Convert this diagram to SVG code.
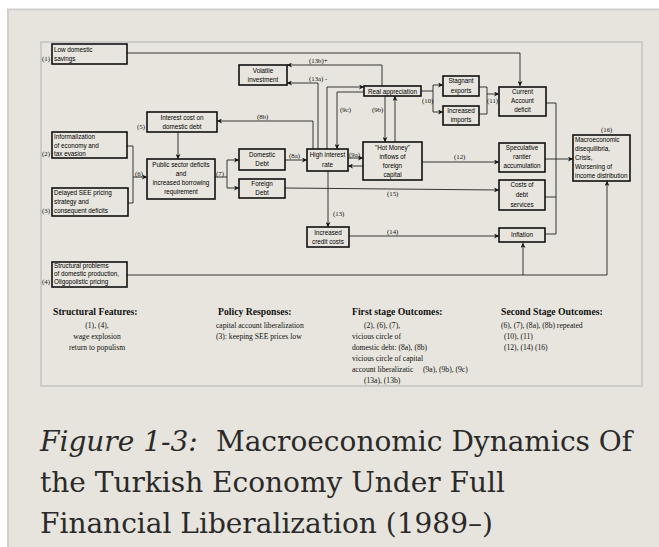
<svg xmlns="http://www.w3.org/2000/svg" width="659" height="547" viewBox="0 0 659 547">
<defs>
<marker id="ah" viewBox="0 0 10 10" refX="10" refY="5" markerWidth="5" markerHeight="5" orient="auto" markerUnits="userSpaceOnUse">
<path d="M0,0 L10,5 L0,10 L3,5 z" fill="#111"/>
</marker>
<style>
.bx{fill:none;stroke:#111;stroke-width:1.6}
.t{font-family:"Liberation Sans",Arial,sans-serif;font-size:6.3px;fill:#000}
.c{text-anchor:middle}
.lb{font-family:"Liberation Serif","Times New Roman",serif;font-size:6.8px;fill:#111}
.ln{fill:none;stroke:#222;stroke-width:0.9}
.ar{marker-end:url(#ah)}
.h{font-family:"Liberation Serif","Times New Roman",serif;font-size:9.7px;font-weight:bold;fill:#111}
.b{font-family:"Liberation Serif","Times New Roman",serif;font-size:7.6px;fill:#111}
.cap{font-family:"DejaVu Serif",serif;font-size:28px;fill:#2a2a2a}
</style>
</defs>
<rect x="0" y="0" width="659" height="547" fill="#ffffff"/>
<rect x="8" y="9" width="651" height="538" fill="#e6e4dc"/>
<path d="M8,547 L8,9.5 L659,9.5" fill="none" stroke="#cfcfcb" stroke-width="2"/>
<rect x="41" y="42" width="601" height="344" fill="#e7e5dd" stroke="#cbcbc7" stroke-width="2"/>

<g id="connectors">
<polyline class="ln ar" points="127,53 520,53 520,86"/>
<polyline class="ln" points="127,146 133,146 133,203 128,203"/>
<polyline class="ln ar" points="133,177 147,177"/>
<polyline class="ln ar" points="178,132 178,159"/>
<polyline class="ln" points="215,177 227,177"/>
<polyline class="ln" points="227,160 227,188"/>
<polyline class="ln ar" points="227,160 239,160"/>
<polyline class="ln ar" points="227,188 239,188"/>
<polyline class="ln ar" points="285,160 307,160"/>
<polyline class="ln ar" points="313,149 313,121 217,121"/>
<polyline class="ln ar" points="318,149 318,83 287,83"/>
<polyline class="ln ar" points="327,149 327,87 364,87"/>
<polyline class="ln ar" points="364,92 337,92 337,149"/>
<polyline class="ln ar" points="382,86 382,65 287,65"/>
<polyline class="ln ar" points="385,96 385,142"/>
<polyline class="ln ar" points="395,142 395,96"/>
<polyline class="ln ar" points="348,158 363,158"/>
<polyline class="ln ar" points="363,166 348,166"/>
<polyline class="ln" points="421,91 433,91"/>
<polyline class="ln" points="433,85 433,112"/>
<polyline class="ln ar" points="433,85 443,85"/>
<polyline class="ln ar" points="433,112 443,112"/>
<polyline class="ln" points="479,87 487,87 487,114 479,114"/>
<polyline class="ln ar" points="487,94 499,94"/>
<polyline class="ln" points="546,103 556,103 556,234 545,234"/>
<polyline class="ln" points="545,197 556,197"/>
<polyline class="ln ar" points="545,159 573,159"/>
<polyline class="ln ar" points="422,162 499,162"/>
<polyline class="ln ar" points="285,188 499,190"/>
<polyline class="ln ar" points="328,171 328,227"/>
<polyline class="ln ar" points="349,236 499,236"/>
<polyline class="ln ar" points="127,275 607,275 607,181"/>
<polyline class="ln ar" points="523,275 523,243"/>
<text class="lb" x="135" y="176">(6)</text>
<text class="lb" x="216" y="176">(7)</text>
<text class="lb" x="289" y="158">(8a)</text>
<text class="lb" x="257" y="119">(8b)</text>
<text class="lb" x="309" y="63">(13b)+</text>
<text class="lb" x="309" y="81">(13a) -</text>
<text class="lb" x="340" y="112">(9c)</text>
<text class="lb" x="372" y="112">(9b)</text>
<text class="lb" x="349" y="157">(9a)</text>
<text class="lb" x="422" y="103">(10)</text>
<text class="lb" x="487" y="103">(11)</text>
<text class="lb" x="454" y="159">(12)</text>
<text class="lb" x="387" y="196">(15)</text>
<text class="lb" x="333" y="216">(13)</text>
<text class="lb" x="387" y="234">(14)</text>
<text class="lb" x="601" y="132">(16)</text>
</g>

<g id="n1"><rect class="bx" x="52" y="44" width="75" height="20"/>
<text class="t" x="54" y="52">Low domestic</text><text class="t" x="54" y="61">savings</text>
<text class="lb" x="42" y="61">(1)</text></g>
<g id="n2"><rect class="bx" x="52" y="132" width="75" height="26"/>
<text class="t" x="54" y="139">Informalization</text><text class="t" x="54" y="148">of economy and</text><text class="t" x="54" y="156">tax evasion</text>
<text class="lb" x="42" y="156">(2)</text></g>
<g id="n3"><rect class="bx" x="52" y="188" width="76" height="28"/>
<text class="t" x="54" y="195">Delayed SEE pricing</text><text class="t" x="54" y="204">strategy and</text><text class="t" x="54" y="213">consequent deficits</text>
<text class="lb" x="42" y="213">(3)</text></g>
<g id="n4"><rect class="bx" x="52" y="262" width="75" height="25"/>
<text class="t" x="54" y="268">Structural problems</text><text class="t" x="54" y="276">of domestic production,</text><text class="t" x="54" y="284">Oligopolistic pricing</text>
<text class="lb" x="42" y="284">(4)</text></g>
<g id="n5"><rect class="bx" x="147" y="112" width="70" height="20"/>
<text class="t c" x="182" y="120">Interest cost on</text><text class="t c" x="182" y="129">domestic debt</text>
<text class="lb" x="137" y="129">(5)</text></g>
<g id="n6"><rect class="bx" x="147" y="159" width="68" height="40"/>
<text class="t c" x="181" y="167">Public sector deficits</text><text class="t c" x="181" y="176">and</text><text class="t c" x="181" y="185">increased borrowing</text><text class="t c" x="181" y="194">requirement</text></g>
<g id="n7"><rect class="bx" x="239" y="65" width="48" height="20"/>
<text class="t c" x="263" y="73">Volatile</text><text class="t c" x="263" y="82">investment</text></g>
<g id="n8"><rect class="bx" x="239" y="149" width="46" height="21"/>
<text class="t c" x="262" y="157">Domestic</text><text class="t c" x="262" y="166">Debt</text></g>
<g id="n9"><rect class="bx" x="239" y="179" width="46" height="19"/>
<text class="t c" x="262" y="186">Foreign</text><text class="t c" x="262" y="195">Debt</text></g>
<g id="n10"><rect class="bx" x="307" y="149" width="41" height="22"/>
<text class="t c" x="327.5" y="157">High interest</text><text class="t c" x="327.5" y="167">rate</text></g>
<g id="n11"><rect class="bx" x="364" y="86" width="57" height="10"/>
<text class="t c" x="392.5" y="93.5">Real appreciation</text></g>
<g id="n12"><rect class="bx" x="363" y="142" width="59" height="38"/>
<text class="t c" x="392.5" y="150">"Hot Money"</text><text class="t c" x="392.5" y="159">inflows of</text><text class="t c" x="392.5" y="168">foreign</text><text class="t c" x="392.5" y="177">capital</text></g>
<g id="n13"><rect class="bx" x="443" y="76" width="36" height="20"/>
<text class="t c" x="461" y="83">Stagnant</text><text class="t c" x="461" y="93">exports</text></g>
<g id="n14"><rect class="bx" x="443" y="106" width="36" height="19"/>
<text class="t c" x="461" y="113">Increased</text><text class="t c" x="461" y="122">imports</text></g>
<g id="n15"><rect class="bx" x="499" y="87" width="47" height="29"/>
<text class="t c" x="522.5" y="94">Current</text><text class="t c" x="522.5" y="103">Account</text><text class="t c" x="522.5" y="112">deficit</text></g>
<g id="n16"><rect class="bx" x="499" y="143" width="46" height="29"/>
<text class="t c" x="522" y="150">Speculative</text><text class="t c" x="522" y="159">rantier</text><text class="t c" x="522" y="168">accumulation</text></g>
<g id="n17"><rect class="bx" x="499" y="180" width="46" height="30"/>
<text class="t c" x="522" y="187">Costs of</text><text class="t c" x="522" y="197">debt</text><text class="t c" x="522" y="207">services</text></g>
<g id="n18"><rect class="bx" x="499" y="228" width="46" height="14"/>
<text class="t c" x="522" y="237">Inflation</text></g>
<g id="n19"><rect class="bx" x="307" y="227" width="42" height="20"/>
<text class="t c" x="328" y="235">Increased</text><text class="t c" x="328" y="244">credit costs</text></g>
<g id="n20"><rect class="bx" x="573" y="135" width="57" height="46"/>
<text class="t" x="575" y="142">Macroeconomic</text><text class="t" x="575" y="151">disequilibria,</text><text class="t" x="575" y="160">Crisis,</text><text class="t" x="575" y="169">Worsening of</text><text class="t" x="575" y="178">income distribution</text></g>

<g id="legend">
<text class="h" x="53" y="315">Structural Features:</text>
<text class="b c" x="97" y="328">(1), (4),</text>
<text class="b c" x="97" y="339">wage explosion</text>
<text class="b c" x="97" y="350">return to populism</text>
<text class="h" x="218" y="315">Policy Responses:</text>
<text class="b" x="216" y="328">capital account liberalization</text>
<text class="b" x="216" y="339">(3): keeping SEE prices low</text>
<text class="h" x="352" y="315">First stage Outcomes:</text>
<text class="b" x="364" y="328">(2), (6), (7),</text>
<text class="b" x="352" y="339">vicious circle of</text>
<text class="b" x="352" y="350">domestic debt: (8a), (8b)</text>
<text class="b" x="352" y="361">vicious circle of capital</text>
<text class="b" x="352" y="372">account liberalizatic</text>
<text class="b" x="423" y="372">(9a), (9b), (9c)</text>
<text class="b" x="364" y="383">(13a), (13b)</text>
<text class="h" x="501" y="315">Second Stage Outcomes:</text>
<text class="b" x="501" y="328">(6), (7), (8a), (8b) repeated</text>
<text class="b" x="504" y="339">(10), (11)</text>
<text class="b" x="504" y="350">(12), (14) (16)</text>
</g>

<g id="caption">
<text class="cap" x="40" y="451"><tspan font-style="italic">Figure 1-3:</tspan><tspan x="216">Macroeconomic Dynamics Of</tspan></text>
<text class="cap" x="40" y="492">the Turkish Economy Under Full</text>
<text class="cap" x="40" y="533">Financial Liberalization (1989–)</text>
</g>
</svg>
